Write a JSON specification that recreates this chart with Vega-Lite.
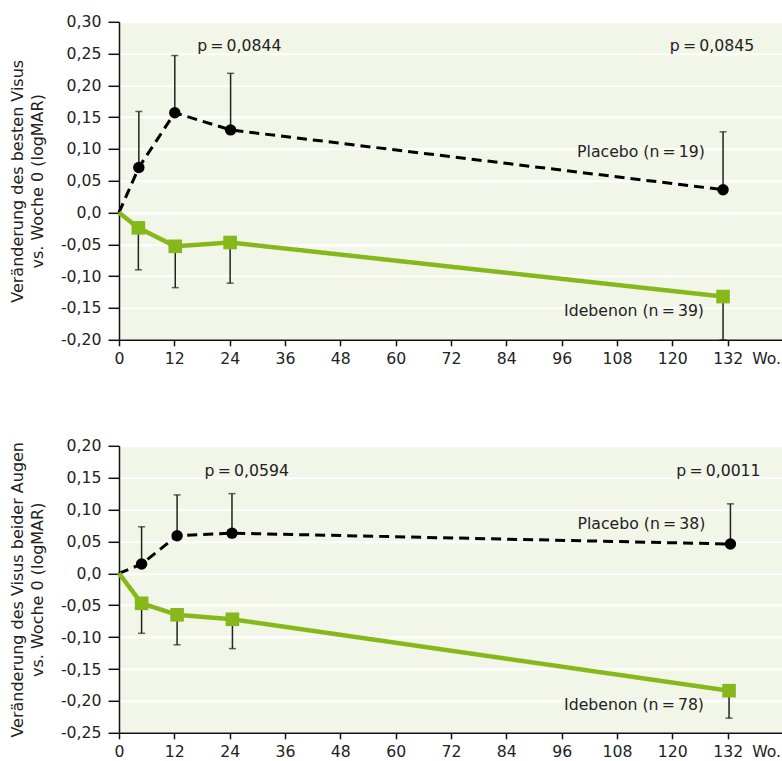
{
  "$schema": "https://vega.github.io/schema/vega-lite/v6.json",
  "padding": {"left": 9, "top": 13.8, "right": 0, "bottom": 0},
  "spacing": 71,
  "config": {
    "font": "DejaVu Sans",
    "view": {"fill": "#f2f6e8", "stroke": null},
    "axis": {
      "labelFont": "DejaVu Sans", "labelFontSize": 15.7, "labelColor": "#222222",
      "titleFont": "DejaVu Sans", "titleFontSize": 16, "titleFontWeight": "normal", "titleColor": "#222222",
      "titleLineHeight": 20,
      "domainColor": "#111111", "tickColor": "#111111", "domainWidth": 1.5, "tickWidth": 1.5
    }
  },
  "datasets": {
    "series": [
      {"panel": 1, "group": "Placebo", "week": 0, "value": 0, "end": null},
      {"panel": 1, "group": "Placebo", "week": 4.3, "value": 0.071, "end": 0.159},
      {"panel": 1, "group": "Placebo", "week": 12.1, "value": 0.157, "end": 0.247},
      {"panel": 1, "group": "Placebo", "week": 24.2, "value": 0.13, "end": 0.219},
      {"panel": 1, "group": "Placebo", "week": 131, "value": 0.036, "end": 0.127},
      {"panel": 1, "group": "Idebenon", "week": 0, "value": 0, "end": null},
      {"panel": 1, "group": "Idebenon", "week": 4.2, "value": -0.024, "end": -0.09},
      {"panel": 1, "group": "Idebenon", "week": 12.2, "value": -0.053, "end": -0.118},
      {"panel": 1, "group": "Idebenon", "week": 24.1, "value": -0.047, "end": -0.111},
      {"panel": 1, "group": "Idebenon", "week": 131, "value": -0.132, "end": -0.2},
      {"panel": 2, "group": "Placebo", "week": 0, "value": 0, "end": null},
      {"panel": 2, "group": "Placebo", "week": 4.9, "value": 0.0146, "end": 0.073},
      {"panel": 2, "group": "Placebo", "week": 12.6, "value": 0.059, "end": 0.123},
      {"panel": 2, "group": "Placebo", "week": 24.5, "value": 0.063, "end": 0.125},
      {"panel": 2, "group": "Placebo", "week": 132.6, "value": 0.046, "end": 0.109},
      {"panel": 2, "group": "Idebenon", "week": 0, "value": 0, "end": null},
      {"panel": 2, "group": "Idebenon", "week": 4.9, "value": -0.047, "end": -0.094},
      {"panel": 2, "group": "Idebenon", "week": 12.6, "value": -0.065, "end": -0.112},
      {"panel": 2, "group": "Idebenon", "week": 24.6, "value": -0.072, "end": -0.118},
      {"panel": 2, "group": "Idebenon", "week": 132.3, "value": -0.184, "end": -0.227}
    ],
    "labels": [
      {"panel": 1, "week": 26.1, "value": 0.262, "text": "p\u2009=\u20090,0844"},
      {"panel": 1, "week": 128.6, "value": 0.262, "text": "p\u2009=\u20090,0845"},
      {"panel": 1, "week": 113.2, "value": 0.0945, "text": "Placebo (n\u2009=\u200919)"},
      {"panel": 1, "week": 111.7, "value": -0.154, "text": "Idebenon (n\u2009=\u200939)"},
      {"panel": 2, "week": 27.7, "value": 0.16, "text": "p\u2009=\u20090,0594"},
      {"panel": 2, "week": 130, "value": 0.16, "text": "p\u2009=\u20090,0011"},
      {"panel": 2, "week": 113.3, "value": 0.0778, "text": "Placebo (n\u2009=\u200938)"},
      {"panel": 2, "week": 111.7, "value": -0.206, "text": "Idebenon (n\u2009=\u200978)"}
    ]
  },
  "vconcat": [
    {
      "width": 664, "height": 318,
      "encoding": {
        "x": {"field": "week", "type": "quantitative",
          "scale": {"domain": [0, 144], "nice": false},
          "axis": {"values": [0, 12, 24, 36, 48, 60, 72, 84, 96, 108, 120, 132, 137.2],
            "labelExpr": "datum.value > 135 ? 'Wo.' : datum.label",
            "labelAlign": {"condition": {"test": "datum.value > 135", "value": "left"}, "value": "center"},
            "tickOpacity": {"condition": {"test": "datum.value > 135", "value": 0}, "value": 1},
            "grid": false, "title": null, "labelOverlap": false, "labelFlush": false, "labelBound": false, "labelPadding": 6, "tickSize": 6}},
        "y": {"field": "value", "type": "quantitative",
          "scale": {"domain": [-0.2, 0.3], "nice": false},
          "axis": {"values": [-0.2, -0.15, -0.1, -0.05, 0, 0.05, 0.1, 0.15, 0.2, 0.25, 0.3],
            "labelExpr": "datum.value == 0 ? '0,0' : replace(replace(format(datum.value, '.2f'), '.', ','), '\u2212', '-')",
            "grid": true, "gridColor": "#ffffff", "gridWidth": 2, "gridOpacity": 1,
            "tickSize": 11, "labelPadding": 7, "titlePadding": 14.5,
            "title": ["Veränderung des besten Visus", "vs. Woche 0 (logMAR)"]}}
      },
      "layer": [
        {"mark": {"type": "rule", "color": "#aaaaaa", "strokeWidth": 3, "strokeDash": [3, 3]},
         "encoding": {"y": {"datum": 0}, "x": {"datum": 0}, "x2": {"datum": 144}}},
        {"data": {"name": "series"}, "transform": [{"filter": "datum.panel == 1"}],
         "mark": {"type": "line"},
         "encoding": {
           "color": {"field": "group", "type": "nominal", "scale": {"domain": ["Placebo", "Idebenon"], "range": ["#000000", "#87b81b"]}, "legend": null},
           "strokeDash": {"field": "group", "type": "nominal", "scale": {"domain": ["Placebo", "Idebenon"], "range": [[10, 6], [1, 0]]}, "legend": null},
           "strokeWidth": {"field": "group", "type": "nominal", "scale": {"domain": ["Placebo", "Idebenon"], "range": [3, 4.5]}, "legend": null}
         }},
        {"data": {"name": "series"}, "transform": [{"filter": "datum.panel == 1 && datum.end != null"}],
         "mark": {"type": "rule", "color": "#222222", "strokeWidth": 1.5},
         "encoding": {"y2": {"field": "end"}}},
        {"data": {"name": "series"}, "transform": [{"filter": "datum.panel == 1 && datum.end != null"}],
         "mark": {"type": "tick", "orient": "horizontal", "color": "#222222", "thickness": 1.5, "size": 7},
         "encoding": {"y": {"field": "end", "type": "quantitative"}}},
        {"data": {"name": "series"}, "transform": [{"filter": "datum.panel == 1 && datum.week > 0"}],
         "mark": {"type": "point", "filled": true, "opacity": 1},
         "encoding": {
           "color": {"field": "group", "type": "nominal", "scale": {"domain": ["Placebo", "Idebenon"], "range": ["#000000", "#87b81b"]}, "legend": null},
           "shape": {"field": "group", "type": "nominal", "scale": {"domain": ["Placebo", "Idebenon"], "range": ["circle", "square"]}, "legend": null},
           "size": {"field": "group", "type": "nominal", "scale": {"domain": ["Placebo", "Idebenon"], "range": [130, 185]}, "legend": null}
         }},
        {"data": {"name": "labels"}, "transform": [{"filter": "datum.panel == 1"}],
         "mark": {"type": "text", "fontSize": 15.7, "color": "#222222", "align": "center", "baseline": "middle"},
         "encoding": {"text": {"field": "text"}}}
      ]
    },
    {
      "width": 664, "height": 287,
      "encoding": {
        "x": {"field": "week", "type": "quantitative",
          "scale": {"domain": [0, 144], "nice": false},
          "axis": {"values": [0, 12, 24, 36, 48, 60, 72, 84, 96, 108, 120, 132, 137.2],
            "labelExpr": "datum.value > 135 ? 'Wo.' : datum.label",
            "labelAlign": {"condition": {"test": "datum.value > 135", "value": "left"}, "value": "center"},
            "tickOpacity": {"condition": {"test": "datum.value > 135", "value": 0}, "value": 1},
            "grid": false, "title": null, "labelOverlap": false, "labelFlush": false, "labelBound": false, "labelPadding": 6, "tickSize": 6}},
        "y": {"field": "value", "type": "quantitative",
          "scale": {"domain": [-0.25, 0.2], "nice": false},
          "axis": {"values": [-0.25, -0.2, -0.15, -0.1, -0.05, 0, 0.05, 0.1, 0.15, 0.2],
            "labelExpr": "datum.value == 0 ? '0,0' : replace(replace(format(datum.value, '.2f'), '.', ','), '\u2212', '-')",
            "grid": true, "gridColor": "#ffffff", "gridWidth": 2, "gridOpacity": 1,
            "tickSize": 11, "labelPadding": 7, "titlePadding": 14.5,
            "title": ["Veränderung des Visus beider Augen", "vs. Woche 0 (logMAR)"]}}
      },
      "layer": [
        {"mark": {"type": "rule", "color": "#aaaaaa", "strokeWidth": 3, "strokeDash": [3, 3]},
         "encoding": {"y": {"datum": 0}, "x": {"datum": 0}, "x2": {"datum": 144}}},
        {"data": {"name": "series"}, "transform": [{"filter": "datum.panel == 2"}],
         "mark": {"type": "line"},
         "encoding": {
           "color": {"field": "group", "type": "nominal", "scale": {"domain": ["Placebo", "Idebenon"], "range": ["#000000", "#87b81b"]}, "legend": null},
           "strokeDash": {"field": "group", "type": "nominal", "scale": {"domain": ["Placebo", "Idebenon"], "range": [[10, 6], [1, 0]]}, "legend": null},
           "strokeWidth": {"field": "group", "type": "nominal", "scale": {"domain": ["Placebo", "Idebenon"], "range": [3, 4.5]}, "legend": null}
         }},
        {"data": {"name": "series"}, "transform": [{"filter": "datum.panel == 2 && datum.end != null"}],
         "mark": {"type": "rule", "color": "#222222", "strokeWidth": 1.5},
         "encoding": {"y2": {"field": "end"}}},
        {"data": {"name": "series"}, "transform": [{"filter": "datum.panel == 2 && datum.end != null"}],
         "mark": {"type": "tick", "orient": "horizontal", "color": "#222222", "thickness": 1.5, "size": 7},
         "encoding": {"y": {"field": "end", "type": "quantitative"}}},
        {"data": {"name": "series"}, "transform": [{"filter": "datum.panel == 2 && datum.week > 0"}],
         "mark": {"type": "point", "filled": true, "opacity": 1},
         "encoding": {
           "color": {"field": "group", "type": "nominal", "scale": {"domain": ["Placebo", "Idebenon"], "range": ["#000000", "#87b81b"]}, "legend": null},
           "shape": {"field": "group", "type": "nominal", "scale": {"domain": ["Placebo", "Idebenon"], "range": ["circle", "square"]}, "legend": null},
           "size": {"field": "group", "type": "nominal", "scale": {"domain": ["Placebo", "Idebenon"], "range": [130, 185]}, "legend": null}
         }},
        {"data": {"name": "labels"}, "transform": [{"filter": "datum.panel == 2"}],
         "mark": {"type": "text", "fontSize": 15.7, "color": "#222222", "align": "center", "baseline": "middle"},
         "encoding": {"text": {"field": "text"}}}
      ]
    }
  ]
}
